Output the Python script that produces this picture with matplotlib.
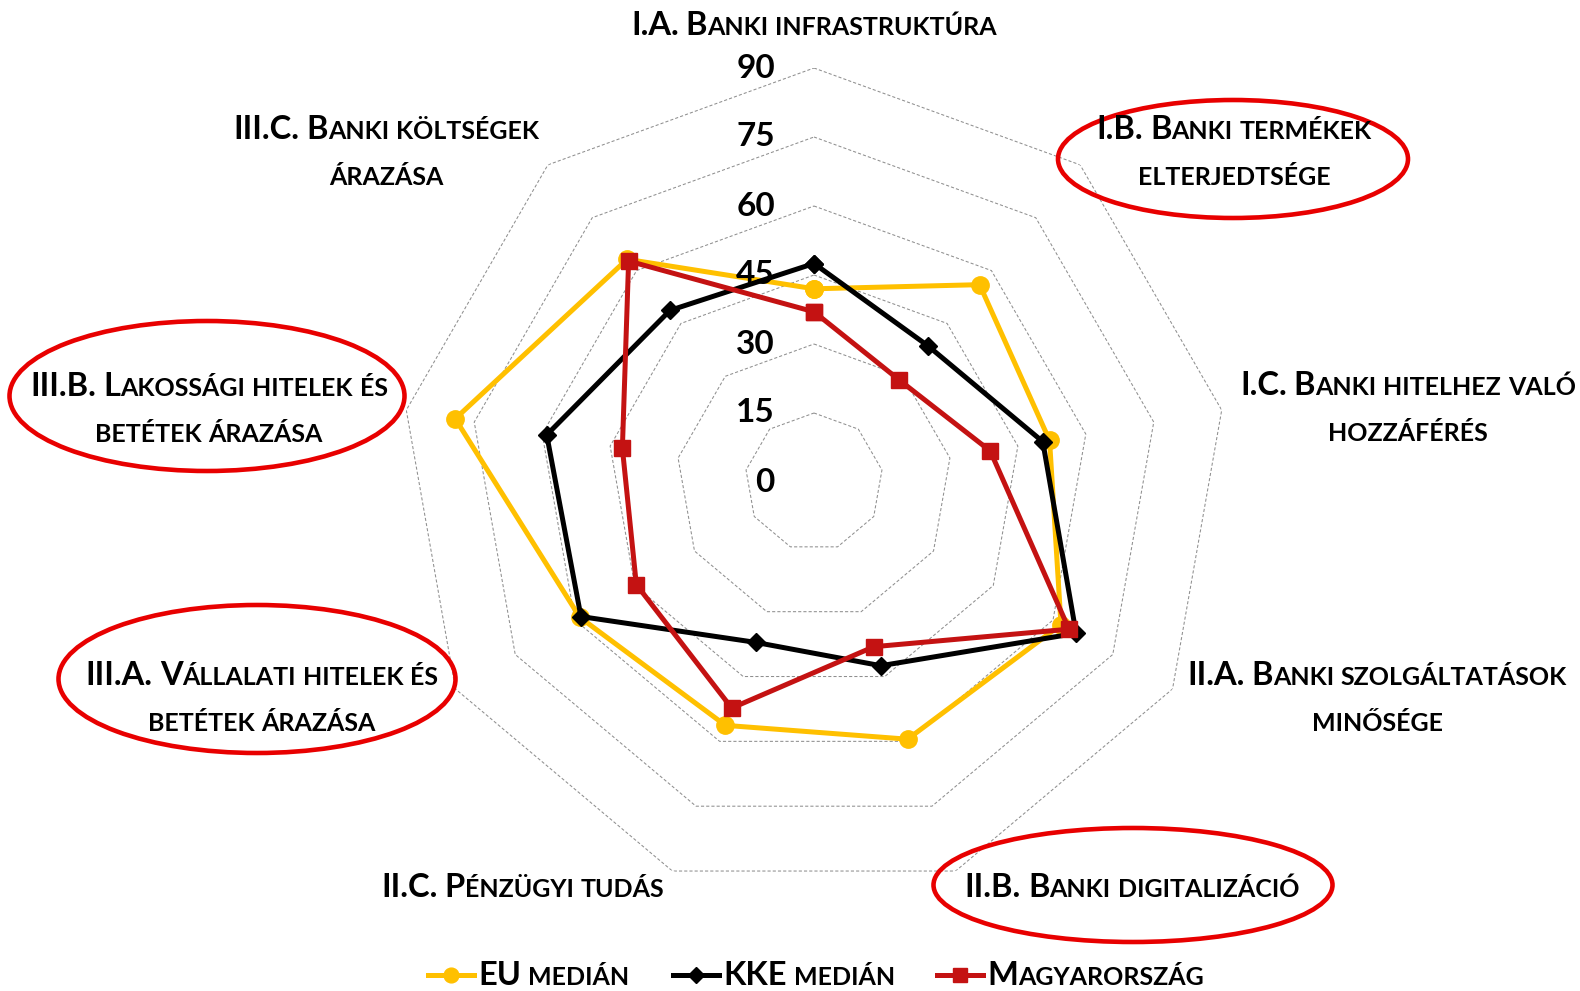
import numpy as np
import matplotlib
matplotlib.use("Agg")
import matplotlib.pyplot as plt
from matplotlib.patches import Ellipse
from matplotlib.lines import Line2D
from matplotlib.transforms import IdentityTransform

# ---- data ----
categories = ["I.A. Banki infrastruktúra",
              "I.B. Banki termékek\nelterjedtsége",
              "I.C. Banki hitelhez való\nhozzáférés",
              "II.A. Banki szolgáltatások\nminősége",
              "II.B. Banki digitalizáció",
              "II.C. Pénzügyi tudás",
              "III.A. Vállalati hitelek és\nbetétek árazása",
              "III.B. Lakossági hitelek és\nbetétek árazása",
              "III.C. Banki költségek\nárazása"]
eu_median = [42.0, 56.0, 52.0, 62.0, 59.5, 56.3, 58.8, 79.2, 63.2]
kke_median = [47.5, 38.6, 50.5, 65.8, 42.5, 37.1, 58.5, 59.0, 48.7]
hungary = [37.0, 28.9, 38.9, 64.0, 38.1, 52.3, 44.6, 42.3, 62.7]
series_names = ["EU medián", "KKE medián", "Magyarország"]
rings = [15, 30, 45, 60, 75, 90]
tick_labels = [0, 15, 30, 45, 60, 75, 90]

# ---- layout (image pixels, y from top) ----
W, H = 1580, 991
CX, CY, R = 814, 482, 414
label_pos = [(814, 35), (1234, 139), (1408, 395), (1377, 685), (1132, 897),
             (523, 897), (262, 685), (209, 396), (386, 139)]
circled = [(1233, 159, 350, 118), (207, 396, 395, 150),
           (257, 679, 397, 148), (1133, 885, 399, 114)]
YEL, BLK, RED, RING = "#FFC000", "#000000", "#C41212", "#E80000"
FONT = "Lato"
BIG, SMALL, LINE = 23.5, 18, 46

fig = plt.figure(figsize=(W / 100, H / 100), dpi=100)
fig.patch.set_facecolor("white")
ax = fig.add_axes([(CX - R) / W, (H - CY - R) / H, 2 * R / W, 2 * R / H], projection="polar")
ax.set_theta_zero_location("N")
ax.set_theta_direction(-1)
ax.set_ylim(0, 90)
ax.axis("off")

n = len(categories)
theta = np.arange(n + 1) * 2 * np.pi / n
close = lambda v: list(v) + [v[0]]

for r in rings:
    ax.plot(theta, [r] * (n + 1), color="#8f8f8f", lw=0.75, ls=(0, (3, 2)), zorder=1)

styles = [dict(color=YEL, marker="o", ms=12.5),
          dict(color=BLK, marker="D", ms=9.5),
          dict(color=RED, marker="s", ms=11.5)]
for vals, st in zip([eu_median, kke_median, hungary], styles):
    ax.plot(theta, close(vals), lw=3.6, zorder=3, clip_on=False, **st)

for v in tick_labels:
    ax.annotate(str(v), xy=(0, v), xytext=(-39, 0), textcoords="offset pixels",
                ha="right", va="center", fontsize=24, fontweight="bold",
                family=FONT, color="black", annotation_clip=False)

renderer = fig.canvas.get_renderer()


def smallcaps(x, y, text, ha="center"):
    """fake small caps: lowercase letters drawn as smaller capitals"""
    for li, line in enumerate(text.split("\n")):
        arts = []
        for wi, word in enumerate(line.split(" ")):
            runs = []
            for ch in word:
                sm = ch.islower()
                s = ch.upper() if sm else ch
                if runs and runs[-1][1] == sm:
                    runs[-1][0] += s
                else:
                    runs.append([s, sm])
            for ri, (s, sm) in enumerate(runs):
                t = fig.text(0, 0, s, fontsize=SMALL if sm else BIG, fontweight="bold",
                             family=FONT, transform=IdentityTransform(), va="baseline", ha="left")
                gap = 7 if (ri == 0 and wi > 0) else 0
                arts.append((t, gap))
        widths = [t.get_window_extent(renderer).width + g for t, g in arts]
        xx = x - sum(widths) / 2 if ha == "center" else x
        for (t, g), w in zip(arts, widths):
            xx += g
            t.set_position((xx, H - (y + li * LINE)))
            xx += w - g


for lab, (x, y) in zip(categories, label_pos):
    smallcaps(x, y, lab)

for cx, cy, w, h in circled:
    fig.add_artist(Ellipse((cx, H - cy), w, h, transform=IdentityTransform(),
                           fill=False, ec=RING, lw=3.3))

# legend drawn by hand so the labels can be in small caps
leg_x = [428, 673, 937]
for name, st, x0 in zip(series_names, styles, leg_x):
    fig.add_artist(Line2D([x0, x0 + 46], [H - 975, H - 975], transform=IdentityTransform(),
                          lw=3.6, color=st["color"]))
    fig.add_artist(Line2D([x0 + 23], [H - 975], transform=IdentityTransform(),
                          marker=st["marker"], color=st["color"], ms=st["ms"] * 0.85, lw=0))
    smallcaps(x0 + 50, 985, name, ha="left")

fig.savefig("out.png", dpi=100, facecolor="white")
